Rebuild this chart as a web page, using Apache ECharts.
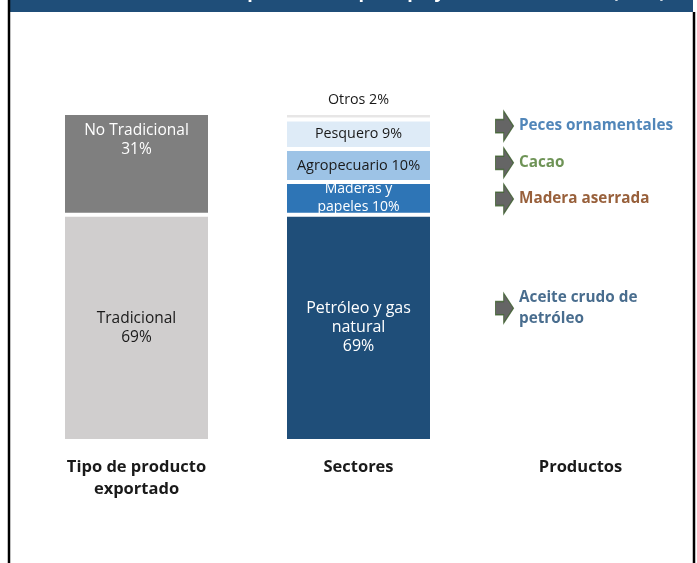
<!DOCTYPE html>
<html><head><meta charset="utf-8">
<script src="https://cdn.jsdelivr.net/npm/echarts@6/dist/echarts.min.js"></script>
<style>html,body{margin:0;padding:0;background:#fff}#c{width:697px;height:563px}</style>
</head><body><div id="c"></div>
<script>
const categories = ['Tipo de producto\nexportado', 'Sectores', 'Productos'];
const tipoNames = ['Tradicional', 'No Tradicional'];
const tipoValues = [69, 31];
const sectorNames = ['Petróleo y gas\nnatural', 'Maderas y\npapeles', 'Agropecuario', 'Pesquero', 'Otros'];
const sectorValues = [69, 10, 10, 9, 2];
const productNames = ['Peces ornamentales', 'Cacao', 'Madera aserrada', 'Aceite crudo de\npetróleo'];
const productLevels = [96, 84.8, 73.8, 40.5];
const titleText = 'Estructura de exportaciones por tipo y sector económico (2013)';

const FONT = 'Open Sans';
const BAR_W = 147;
const tipoColors = ['#D0CECE', '#7F7F7F'];
const tipoText = ['#1a1a1a', '#FFFFFF'];
const sectorColors = ['#1F4E79', '#2E75B6', '#9DC3E6', '#DEEBF7', '#E7E6E6'];
const sectorText = ['#FFFFFF', '#FFFFFF', '#1a1a1a', '#1a1a1a', '#1a1a1a'];
const sectorFont = [16, 14, 14.5, 14.3, 14.3];
const productColors = ['#2568A8', '#4A782C', '#7E380A', '#1B4872'];

const series = [];
tipoNames.forEach((n, i) => {
  series.push({
    name: n, type: 'bar', stack: 's', barWidth: BAR_W,
    data: [tipoValues[i], '-', '-'],
    itemStyle: { color: tipoColors[i], borderColor: '#fff', borderWidth: 2 },
    label: {
      show: true, position: i === 1 ? 'insideTop' : 'inside', distance: 8,
      formatter: p => n + '\n' + p.value + '%',
      color: tipoText[i], fontFamily: FONT, fontSize: 15.5, lineHeight: 19
    }
  });
});
sectorNames.forEach((n, i) => {
  const isOtros = i === 4;
  series.push({
    name: n, type: 'bar', stack: 's', barWidth: BAR_W,
    data: ['-', sectorValues[i], '-'],
    itemStyle: { color: sectorColors[i], borderColor: '#fff', borderWidth: 2 },
    label: {
      show: true, position: isOtros ? 'top' : 'inside', distance: 4,
      formatter: p => (i === 0 ? n + '\n' + p.value + '%' : n + ' ' + p.value + '%'),
      color: sectorText[i], fontFamily: FONT, fontSize: sectorFont[i], lineHeight: i === 1 ? 18 : 19
    }
  });
});
series.push({
  type: 'scatter',
  symbol: 'path://M0 25 L25 25 L25 0 L55 45 L25 90 L25 65 L0 65 Z',
  symbolSize: [18, 30],
  symbolOffset: [-76, 0],
  itemStyle: { color: '#3F3F3F', borderColor: '#3B5E2B', borderWidth: 1.2 },
  data: productNames.map((n, i) => ({
    value: [2, productLevels[i]], name: n,
    label: { color: productColors[i] }
  })),
  label: {
    show: true, position: 'right', distance: 5, align: 'left',
    formatter: p => p.name,
    fontFamily: FONT, fontWeight: 'bold', fontSize: 15.3, lineHeight: 21
  },
  z: 5
});

const chart = echarts.init(document.getElementById('c'), null, { renderer: 'canvas' });
chart.setOption({
  backgroundColor: '#fff',
  animation: false,
  grid: { left: 25.5, right: 5.5, top: 113, bottom: 122 },
  xAxis: {
    type: 'category', data: categories,
    axisLine: { show: false }, axisTick: { show: false },
    axisLabel: { margin: 15, fontFamily: FONT, fontWeight: 'bold', fontSize: 16.5, lineHeight: 22, color: '#1a1a1a' }
  },
  yAxis: { type: 'value', min: 0, max: 100, show: false },
  series: series,
  graphic: [
    { type: 'rect', shape: { x: 9, y: 0, width: 684, height: 12 }, style: { fill: '#1F4E79' }, z: 10 },
    { type: 'text', x: 100, y: -16, style: { text: titleText, fill: '#fff', font: 'bold 18px "Open Sans"', textAlign: 'left' }, z: 11 },
    { type: 'line', shape: { x1: 9, y1: 0, x2: 9, y2: 563 }, style: { stroke: '#000', lineWidth: 2.5 }, z: 12 },
    { type: 'line', shape: { x1: 694, y1: 12, x2: 694, y2: 563 }, style: { stroke: '#000', lineWidth: 2.5 }, z: 12 }
  ]
});
</script></body></html>
